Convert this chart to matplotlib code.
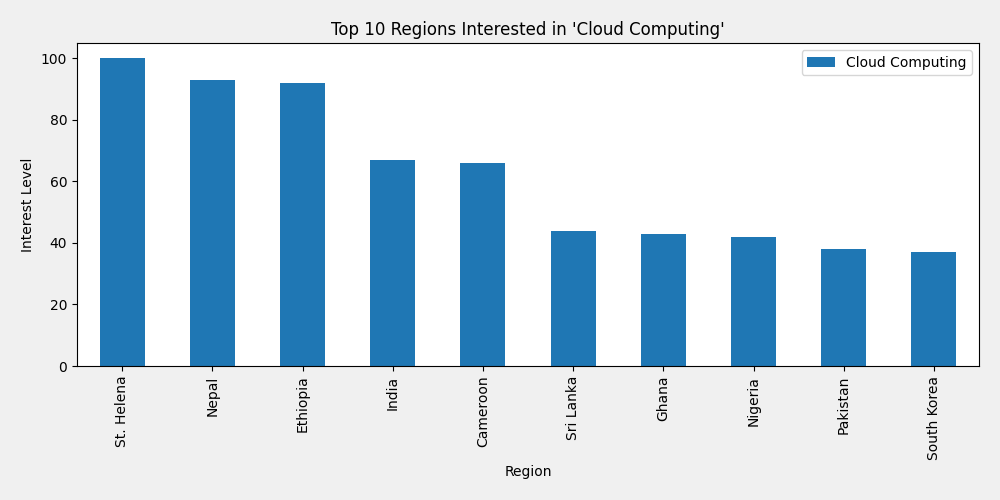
import matplotlib
matplotlib.use("Agg")
import matplotlib.pyplot as plt
import pandas as pd

regions = ["St. Helena", "Nepal", "Ethiopia", "India", "Cameroon",
           "Sri Lanka", "Ghana", "Nigeria", "Pakistan", "South Korea"]
interest = [100, 93, 92, 67, 66, 44, 43, 42, 38, 37]

df = pd.DataFrame({"Cloud Computing": interest}, index=regions)
df.index.name = "Region"

fig, ax = plt.subplots(figsize=(10, 5), dpi=100)
fig.patch.set_facecolor("#f0f0f0")
df.plot(kind="bar", ax=ax, color="#1f77b4")
ax.set_title("Top 10 Regions Interested in 'Cloud Computing'")
ax.set_xlabel("Region")
ax.set_ylabel("Interest Level")
ax.legend(loc="upper right")
fig.subplots_adjust(left=0.077, right=0.979, top=0.914, bottom=0.268)
plt.savefig("out.png", facecolor=fig.get_facecolor())
